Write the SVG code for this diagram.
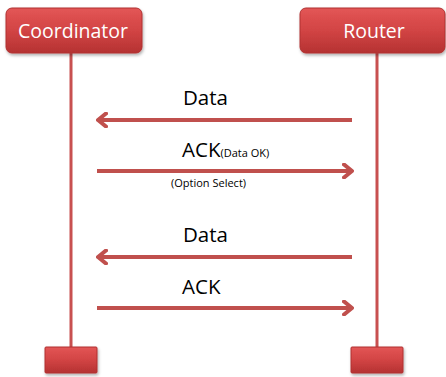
<svg xmlns="http://www.w3.org/2000/svg" width="446" height="377" viewBox="0 0 446 377">
<defs>
<linearGradient id="g" x1="0" y1="0" x2="0" y2="1">
<stop offset="0" stop-color="#E35656"/>
<stop offset="0.5" stop-color="#D24444"/>
<stop offset="1" stop-color="#B53232"/>
</linearGradient>
<filter id="sh" x="-10%" y="-10%" width="130%" height="140%">
<feDropShadow dx="1" dy="2" stdDeviation="1.5" flood-color="#000" flood-opacity="0.3"/>
</filter>
<marker id="ah" viewBox="0 0 12 16" refX="10" refY="8" markerWidth="12" markerHeight="16" markerUnits="userSpaceOnUse" orient="auto">
<path d="M2,1.5 L10,8 L2,14.5" fill="none" stroke="#C0504D" stroke-width="4" stroke-linecap="round" stroke-linejoin="round"/>
</marker>
</defs>
<style>
.box{fill:url(#g);stroke:#B03030;stroke-width:1;filter:url(#sh)}
.lbl{font-family:"Open Sans","Noto Sans",sans-serif;font-size:19.5px;fill:#fff;text-anchor:middle}
.life{stroke:#C85050;stroke-width:3}
.msg{stroke:#C0504D;stroke-width:4;fill:none;marker-end:url(#ah)}
.t{font-family:"Open Sans","Noto Sans",sans-serif;font-size:20.5px;fill:#000}
.s{font-family:"Open Sans","Noto Sans",sans-serif;font-size:11px;fill:#000}
</style>
<g id="coordinator">
<line class="life" x1="71" y1="53" x2="71" y2="348"/>
<rect class="box" x="6" y="8" width="136" height="45" rx="6"/>
<text class="lbl" x="73" y="38">Coordinator</text>
<rect class="box" x="45" y="347" width="52" height="26" rx="1"/>
</g>
<g id="router">
<line class="life" x1="377" y1="53" x2="377" y2="348"/>
<rect class="box" x="300" y="8" width="145" height="45" rx="6"/>
<text class="lbl" x="374" y="38">Router</text>
<rect class="box" x="351" y="347" width="52" height="26" rx="1"/>
</g>
<g id="connectors">
<line class="msg" x1="352" y1="120" x2="98" y2="120"/>
<line class="msg" x1="97" y1="171" x2="352" y2="171"/>
<line class="msg" x1="352" y1="257" x2="98" y2="257"/>
<line class="msg" x1="97" y1="308" x2="352" y2="308"/>
</g>
<g id="labels">
<text class="t" x="183" y="105">Data</text>
<text class="t" x="182" y="157">ACK<tspan class="s">(Data OK)</tspan></text>
<text class="s" x="171" y="187">(Option Select)</text>
<text class="t" x="183" y="242">Data</text>
<text class="t" x="182" y="294">ACK</text>
</g>
</svg>
